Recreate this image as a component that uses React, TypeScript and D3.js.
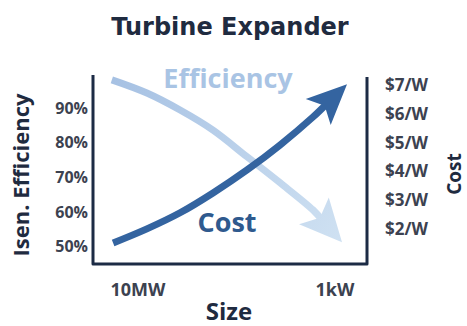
import React from "react";
import * as d3 from "d3";

// Data
const sizeTicks = [1e7, 1e3];
const sizeTickLabels = ["10MW", "1kW"];
const effTicks = [50, 60, 70, 80, 90];
const costTicks = [2, 3, 4, 5, 6, 7];

// size in W (log axis), efficiency in %
const effSize = [3.4e7, 6.6e6, 1.4e6, 3.0e5, 6.1e4, 1.3e4, 2.8e3, 720];
const effValue = [98.1, 94.3, 89.4, 83.6, 75.9, 68.4, 60.6, 51.3];
// cost in $/W
const costSize = [3.2e7, 6.6e6, 1.4e6, 3.0e5, 6.1e4, 1.3e4, 2.8e3, 570];
const costValue = [1.51, 2.0, 2.56, 3.25, 4.05, 4.92, 5.89, 7.03];

const W = 467;
const H = 326;
const plot = { left: 93, right: 367, top: 75, bottom: 264 };

const FONT = "'Open Sans', sans-serif";

type P = [number, number];

function arrowHead(tip: P, from: P, len: number, half: number, notch: number) {
  const dx = tip[0] - from[0];
  const dy = tip[1] - from[1];
  const d = Math.hypot(dx, dy);
  const ux = dx / d, uy = dy / d;
  const px = -uy, py = ux;
  const bx = tip[0] - ux * len, by = tip[1] - uy * len;
  const p1: P = [bx + px * half, by + py * half];
  const p2: P = [bx - px * half, by - py * half];
  const n: P = [bx + ux * notch, by + uy * notch];
  return {
    d: `M${tip[0]},${tip[1]}L${p1[0]},${p1[1]}L${n[0]},${n[1]}L${p2[0]},${p2[1]}Z`,
    join: [bx + ux * (notch + 4), by + uy * (notch + 4)] as P,
  };
}

export default function App() {
  const x = d3.scaleLog().domain([1e7, 1e3]).range([138, 335]);
  const yL = d3.scaleLinear().domain([45, 99.5]).range([plot.bottom, plot.top]);
  const yR = d3.scaleLinear().domain([0.78, 7.35]).range([plot.bottom, plot.top]);

  const effPts: P[] = effSize.map((s, i) => [x(s), yL(effValue[i])]);
  const costPts: P[] = costSize.map((s, i) => [x(s), yR(costValue[i])]);

  const line = d3.line().curve(d3.curveCatmullRom.alpha(0.5));

  const effTip = effPts[effPts.length - 1];
  const effPrev = effPts[effPts.length - 2];
  const costTip = costPts[costPts.length - 1];
  const costPrev = costPts[costPts.length - 2];

  const effHead = arrowHead(effTip, effPrev, 42, 20, 9);
  const costHead = arrowHead(costTip, costPrev, 40, 18, 9);

  const effShaft = [...effPts.slice(0, -1), effHead.join];
  const costShaft = [...costPts.slice(0, -1), costHead.join];

  const costColor = "#3464a0";
  const axisColor = "#1c2b45";
  const tickColor = "#3c4250";
  const titleColor = "#1f2b40";

  return (
    <svg
      width={W}
      height={H}
      style={{ position: "absolute", left: 0, top: 0, background: "#fff" }}
      fontFamily={FONT}
    >
      <defs>
        <linearGradient id="effGrad" gradientUnits="userSpaceOnUse" x1={effPts[0][0]} y1={effPts[0][1]} x2={effTip[0]} y2={effTip[1]}>
          <stop offset="0" stopColor="#a6c1e3" />
          <stop offset="1" stopColor="#cfe1f2" />
        </linearGradient>
      </defs>

      <text x={230} y={35} textAnchor="middle" fontFamily="'DejaVu Sans', sans-serif" fontWeight="bold" fontSize={24} fill={titleColor}>
        Turbine Expander
      </text>

      {/* frame */}
      <path
        d={`M${plot.left},${plot.top}L${plot.left},${plot.bottom}L${plot.right},${plot.bottom}L${plot.right},${plot.top + 2}`}
        fill="none"
        stroke={axisColor}
        strokeWidth={3}
        strokeLinejoin="round"
      />

      {/* efficiency arrow */}
      <path d={line(effShaft) || ""} fill="none" stroke="url(#effGrad)" strokeWidth={7} />
      <path d={effHead.d} fill="url(#effGrad)" />

      {/* cost arrow */}
      <path d={line(costShaft) || ""} fill="none" stroke={costColor} strokeWidth={7} />
      <path d={costHead.d} fill={costColor} />

      <text x={228} y={88} textAnchor="middle" fontWeight={700} fontSize={27} fill="#a9c4e4">
        Efficiency
      </text>
      <text x={227} y={232} textAnchor="middle" fontWeight={700} fontSize={27} fill="#2f5a8e">
        Cost
      </text>

      {effTicks.map((t) => (
        <text key={t} x={88} y={yL(t)} dy="0.35em" textAnchor="end" fontWeight={700} fontSize={16} fill={tickColor}>
          {t}%
        </text>
      ))}
      {costTicks.map((t) => (
        <text key={t} x={385} y={yR(t)} dy="0.35em" textAnchor="start" fontWeight={700} fontSize={17} fill={tickColor}>
          ${t}/W
        </text>
      ))}
      {sizeTicks.map((t, i) => (
        <text key={t} x={x(t)} y={296} textAnchor="middle" fontWeight={700} fontSize={18} fill={tickColor}>
          {sizeTickLabels[i]}
        </text>
      ))}

      <text x={229} y={320} textAnchor="middle" fontWeight={700} fontSize={24} fill={titleColor}>
        Size
      </text>
      <text transform="translate(29,175) rotate(-90)" textAnchor="middle" fontWeight={700} fontSize={22} fill={titleColor}>
        Isen. Efficiency
      </text>
      <text transform="translate(461,174) rotate(-90)" textAnchor="middle" fontWeight={700} fontSize={19} fill={titleColor}>
        Cost
      </text>
    </svg>
  );
}
